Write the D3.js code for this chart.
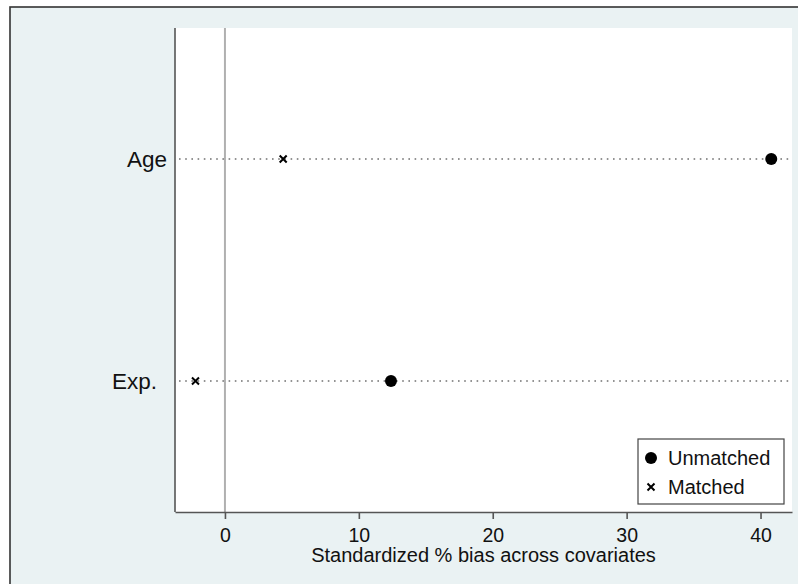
<!DOCTYPE html>
<html>
<head>
<meta charset="utf-8">
<script src="https://cdn.jsdelivr.net/npm/d3@7"></script>
<style>
  body { margin: 0; background: #fff; }
  svg { display: block; font-family: "Liberation Sans", Arial, sans-serif; }
</style>
</head>
<body>
<div id="chart"></div>
<script>
var width = 798;
var height = 584;

// covariates, top to bottom
var covariates = ["Age", "Exp."];
// standardized % bias
var unmatched = [40.8, 12.4];
var matched = [4.35, -2.2];
var xTicks = [0, 10, 20, 30, 40];
var seriesNames = ["Unmatched", "Matched"];

var plot = {left: 175, top: 28, right: 792, bottom: 512};

var svg = d3.select("#chart")
    .append("svg")
    .attr("width", width)
    .attr("height", height);

// outer graph region
svg.append("rect")
    .attr("x", 10).attr("y", 7)
    .attr("width", width + 20).attr("height", height + 20)
    .attr("fill", "#eaf2f3")
    .attr("stroke", "#333")
    .attr("stroke-width", 1.6);

// plot region
svg.append("rect")
    .attr("x", plot.left).attr("y", plot.top)
    .attr("width", plot.right - plot.left)
    .attr("height", plot.bottom - plot.top)
    .attr("fill", "#fff");

var x = d3.scaleLinear()
    .domain([-3.73, 42.35])
    .range([plot.left, plot.right]);

var y = d3.scalePoint()
    .domain(covariates)
    .range([plot.top, plot.bottom])
    .padding(0.59);

// dotted guide lines
svg.selectAll(".guide")
    .data(covariates)
    .enter()
    .append("line")
    .attr("class", "guide")
    .attr("x1", plot.left + 4)
    .attr("x2", plot.right - 2)
    .attr("y1", d => y(d))
    .attr("y2", d => y(d))
    .attr("stroke", "#707070")
    .attr("stroke-width", 1.4)
    .attr("stroke-dasharray", "1.6,4.6");

// reference line at zero
svg.append("line")
    .attr("x1", x(0)).attr("x2", x(0))
    .attr("y1", plot.top).attr("y2", plot.bottom)
    .attr("stroke", "#b0b0b0")
    .attr("stroke-width", 2);

// x axis
var xAxis = svg.append("g")
    .attr("transform", "translate(0," + plot.bottom + ")")
    .call(d3.axisBottom(x).tickValues(xTicks).tickSize(7).tickPadding(9.5).tickSizeOuter(0));
xAxis.select(".domain").attr("stroke", "#555").attr("stroke-width", 1.6);
xAxis.selectAll(".tick line").attr("stroke", "#555").attr("stroke-width", 1.6);
xAxis.selectAll(".tick text")
    .attr("fill", "#111")
    .style("font-size", "19.5px")
    .style("font-family", "'Liberation Sans', Arial, sans-serif");

svg.append("text")
    .attr("x", (plot.left + plot.right) / 2)
    .attr("y", 562)
    .attr("text-anchor", "middle")
    .style("font-size", "20px")
    .attr("fill", "#111")
    .text("Standardized % bias across covariates");

// y axis
var yAxis = svg.append("g")
    .attr("transform", "translate(" + plot.left + ",0)")
    .call(d3.axisLeft(y).tickSize(0).tickPadding(8).tickSizeOuter(0));
yAxis.select(".domain").attr("stroke", "#555").attr("stroke-width", 1.6)
    .attr("d", "M0," + plot.top + "V" + plot.bottom);
yAxis.selectAll(".tick text")
    .attr("fill", "#111")
    .attr("dx", d => d == "Exp." ? -10 : 0)
    .style("font-size", "22.5px")
    .style("font-family", "'Liberation Sans', Arial, sans-serif");

var crossPath = "M-3.5,-3.5L3.5,3.5M-3.5,3.5L3.5,-3.5";

// unmatched points
svg.selectAll(".unmatched")
    .data(covariates)
    .enter()
    .append("circle")
    .attr("class", "unmatched")
    .attr("cx", (d, i) => x(unmatched[i]))
    .attr("cy", d => y(d))
    .attr("r", 6)
    .attr("fill", "#000");

// matched points
svg.selectAll(".matched")
    .data(covariates)
    .enter()
    .append("path")
    .attr("class", "matched")
    .attr("d", crossPath)
    .attr("transform", (d, i) => "translate(" + x(matched[i]) + "," + y(d) + ")")
    .attr("stroke", "#000")
    .attr("stroke-width", 2);

// legend
var legend = svg.append("g").attr("transform", "translate(638,439)");
legend.append("rect")
    .attr("width", 146).attr("height", 65)
    .attr("fill", "#fff")
    .attr("stroke", "#444")
    .attr("stroke-width", 1.2);
legend.append("circle")
    .attr("cx", 13).attr("cy", 19).attr("r", 6).attr("fill", "#000");
legend.append("path")
    .attr("d", crossPath)
    .attr("transform", "translate(13,48)")
    .attr("stroke", "#000").attr("stroke-width", 2);
legend.selectAll(".ltext")
    .data(seriesNames)
    .enter()
    .append("text")
    .attr("class", "ltext")
    .attr("x", 30)
    .attr("y", (d, i) => 26 + i * 29)
    .style("font-size", "20px")
    .attr("fill", "#111")
    .text(d => d);
</script>
</body>
</html>
